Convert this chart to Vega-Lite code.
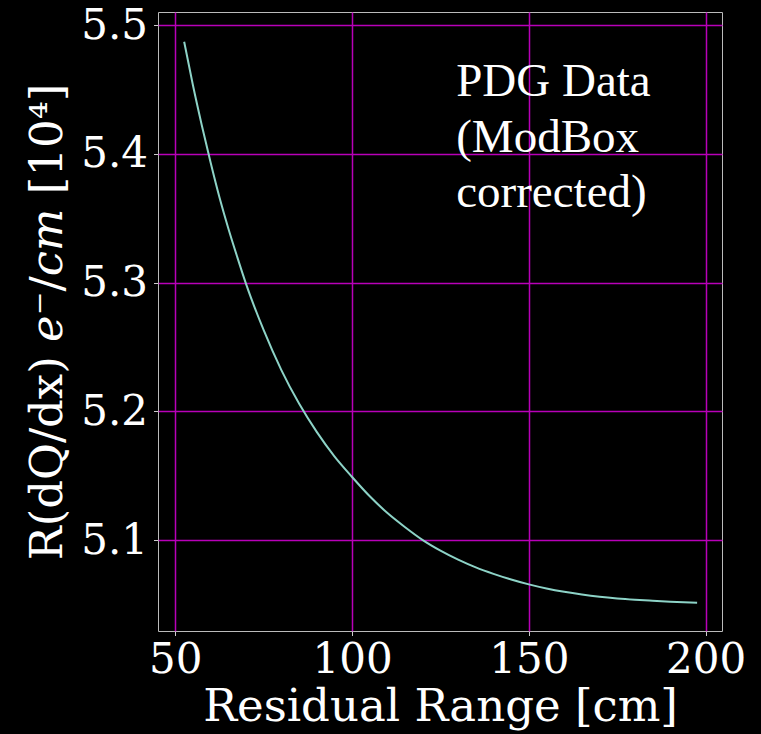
{
  "$schema": "https://vega.github.io/schema/vega-lite/v6.json",
  "width": 564,
  "height": 619,
  "autosize": {"type": "none"},
  "padding": {"left": 158, "top": 12, "right": 39, "bottom": 103},
  "background": "black",
  "config": {
    "view": {"stroke": "#bbbbbb", "strokeWidth": 1},
    "axis": {
      "labelFont": "DejaVu Serif",
      "titleFont": "DejaVu Serif",
      "labelColor": "white",
      "titleColor": "white",
      "labelFontSize": 42,
      "titleFontSize": 45,
      "titleFontWeight": "normal",
      "gridColor": "#b800b8",
      "gridWidth": 1.5,
      "gridOpacity": 1,
      "domain": false,
      "tickColor": "#cccccc",
      "tickSize": 4.5,
      "tickWidth": 1
    }
  },
  "datasets": {
    "curve": [
      {"range": 52.5, "dqdx": 5.487},
      {"range": 55, "dqdx": 5.453},
      {"range": 57.5, "dqdx": 5.422},
      {"range": 60, "dqdx": 5.393},
      {"range": 62.5, "dqdx": 5.366},
      {"range": 65, "dqdx": 5.342},
      {"range": 67.5, "dqdx": 5.320},
      {"range": 70, "dqdx": 5.299},
      {"range": 75, "dqdx": 5.263},
      {"range": 80, "dqdx": 5.232},
      {"range": 85, "dqdx": 5.206},
      {"range": 90, "dqdx": 5.184},
      {"range": 95, "dqdx": 5.165},
      {"range": 100, "dqdx": 5.149},
      {"range": 105, "dqdx": 5.134},
      {"range": 110, "dqdx": 5.121},
      {"range": 115, "dqdx": 5.110},
      {"range": 120, "dqdx": 5.100},
      {"range": 125, "dqdx": 5.0918},
      {"range": 130, "dqdx": 5.0848},
      {"range": 135, "dqdx": 5.0788},
      {"range": 140, "dqdx": 5.0738},
      {"range": 145, "dqdx": 5.0694},
      {"range": 150, "dqdx": 5.0656},
      {"range": 155, "dqdx": 5.0624},
      {"range": 160, "dqdx": 5.0598},
      {"range": 165, "dqdx": 5.0577},
      {"range": 170, "dqdx": 5.0560},
      {"range": 175, "dqdx": 5.0547},
      {"range": 180, "dqdx": 5.0537},
      {"range": 185, "dqdx": 5.0529},
      {"range": 190, "dqdx": 5.0522},
      {"range": 197.6, "dqdx": 5.0514}
    ],
    "note": [
      {"range": 129.45, "dqdx": 5.4448, "label": "PDG Data\n(ModBox\ncorrected)"}
    ]
  },
  "encoding": {
    "x": {
      "field": "range",
      "type": "quantitative",
      "scale": {"domain": [45.1, 204.64], "nice": false, "zero": false},
      "axis": {"values": [50, 100, 150, 200], "title": "Residual Range [cm]", "labelPadding": 4, "titlePadding": 4}
    },
    "y": {
      "field": "dqdx",
      "type": "quantitative",
      "scale": {"domain": [5.0294, 5.5101], "nice": false, "zero": false},
      "axis": {"values": [5.1, 5.2, 5.3, 5.4, 5.5], "format": ".1f", "title": "R(dQ/dx) 𝑒⁻/𝑐𝑚 [10⁴]", "labelPadding": 6, "titlePadding": 10}
    }
  },
  "layer": [
    {
      "data": {"name": "curve"},
      "mark": {"type": "line", "color": "#8dd3c7", "strokeWidth": 2, "interpolate": "monotone", "clip": true}
    },
    {
      "data": {"name": "note"},
      "mark": {"type": "text", "align": "left", "baseline": "alphabetic", "font": "Liberation Serif", "fontSize": 47, "lineHeight": 55.5, "color": "white", "lineBreak": "\n"},
      "encoding": {
        "text": {"field": "label"}
      }
    }
  ]
}
